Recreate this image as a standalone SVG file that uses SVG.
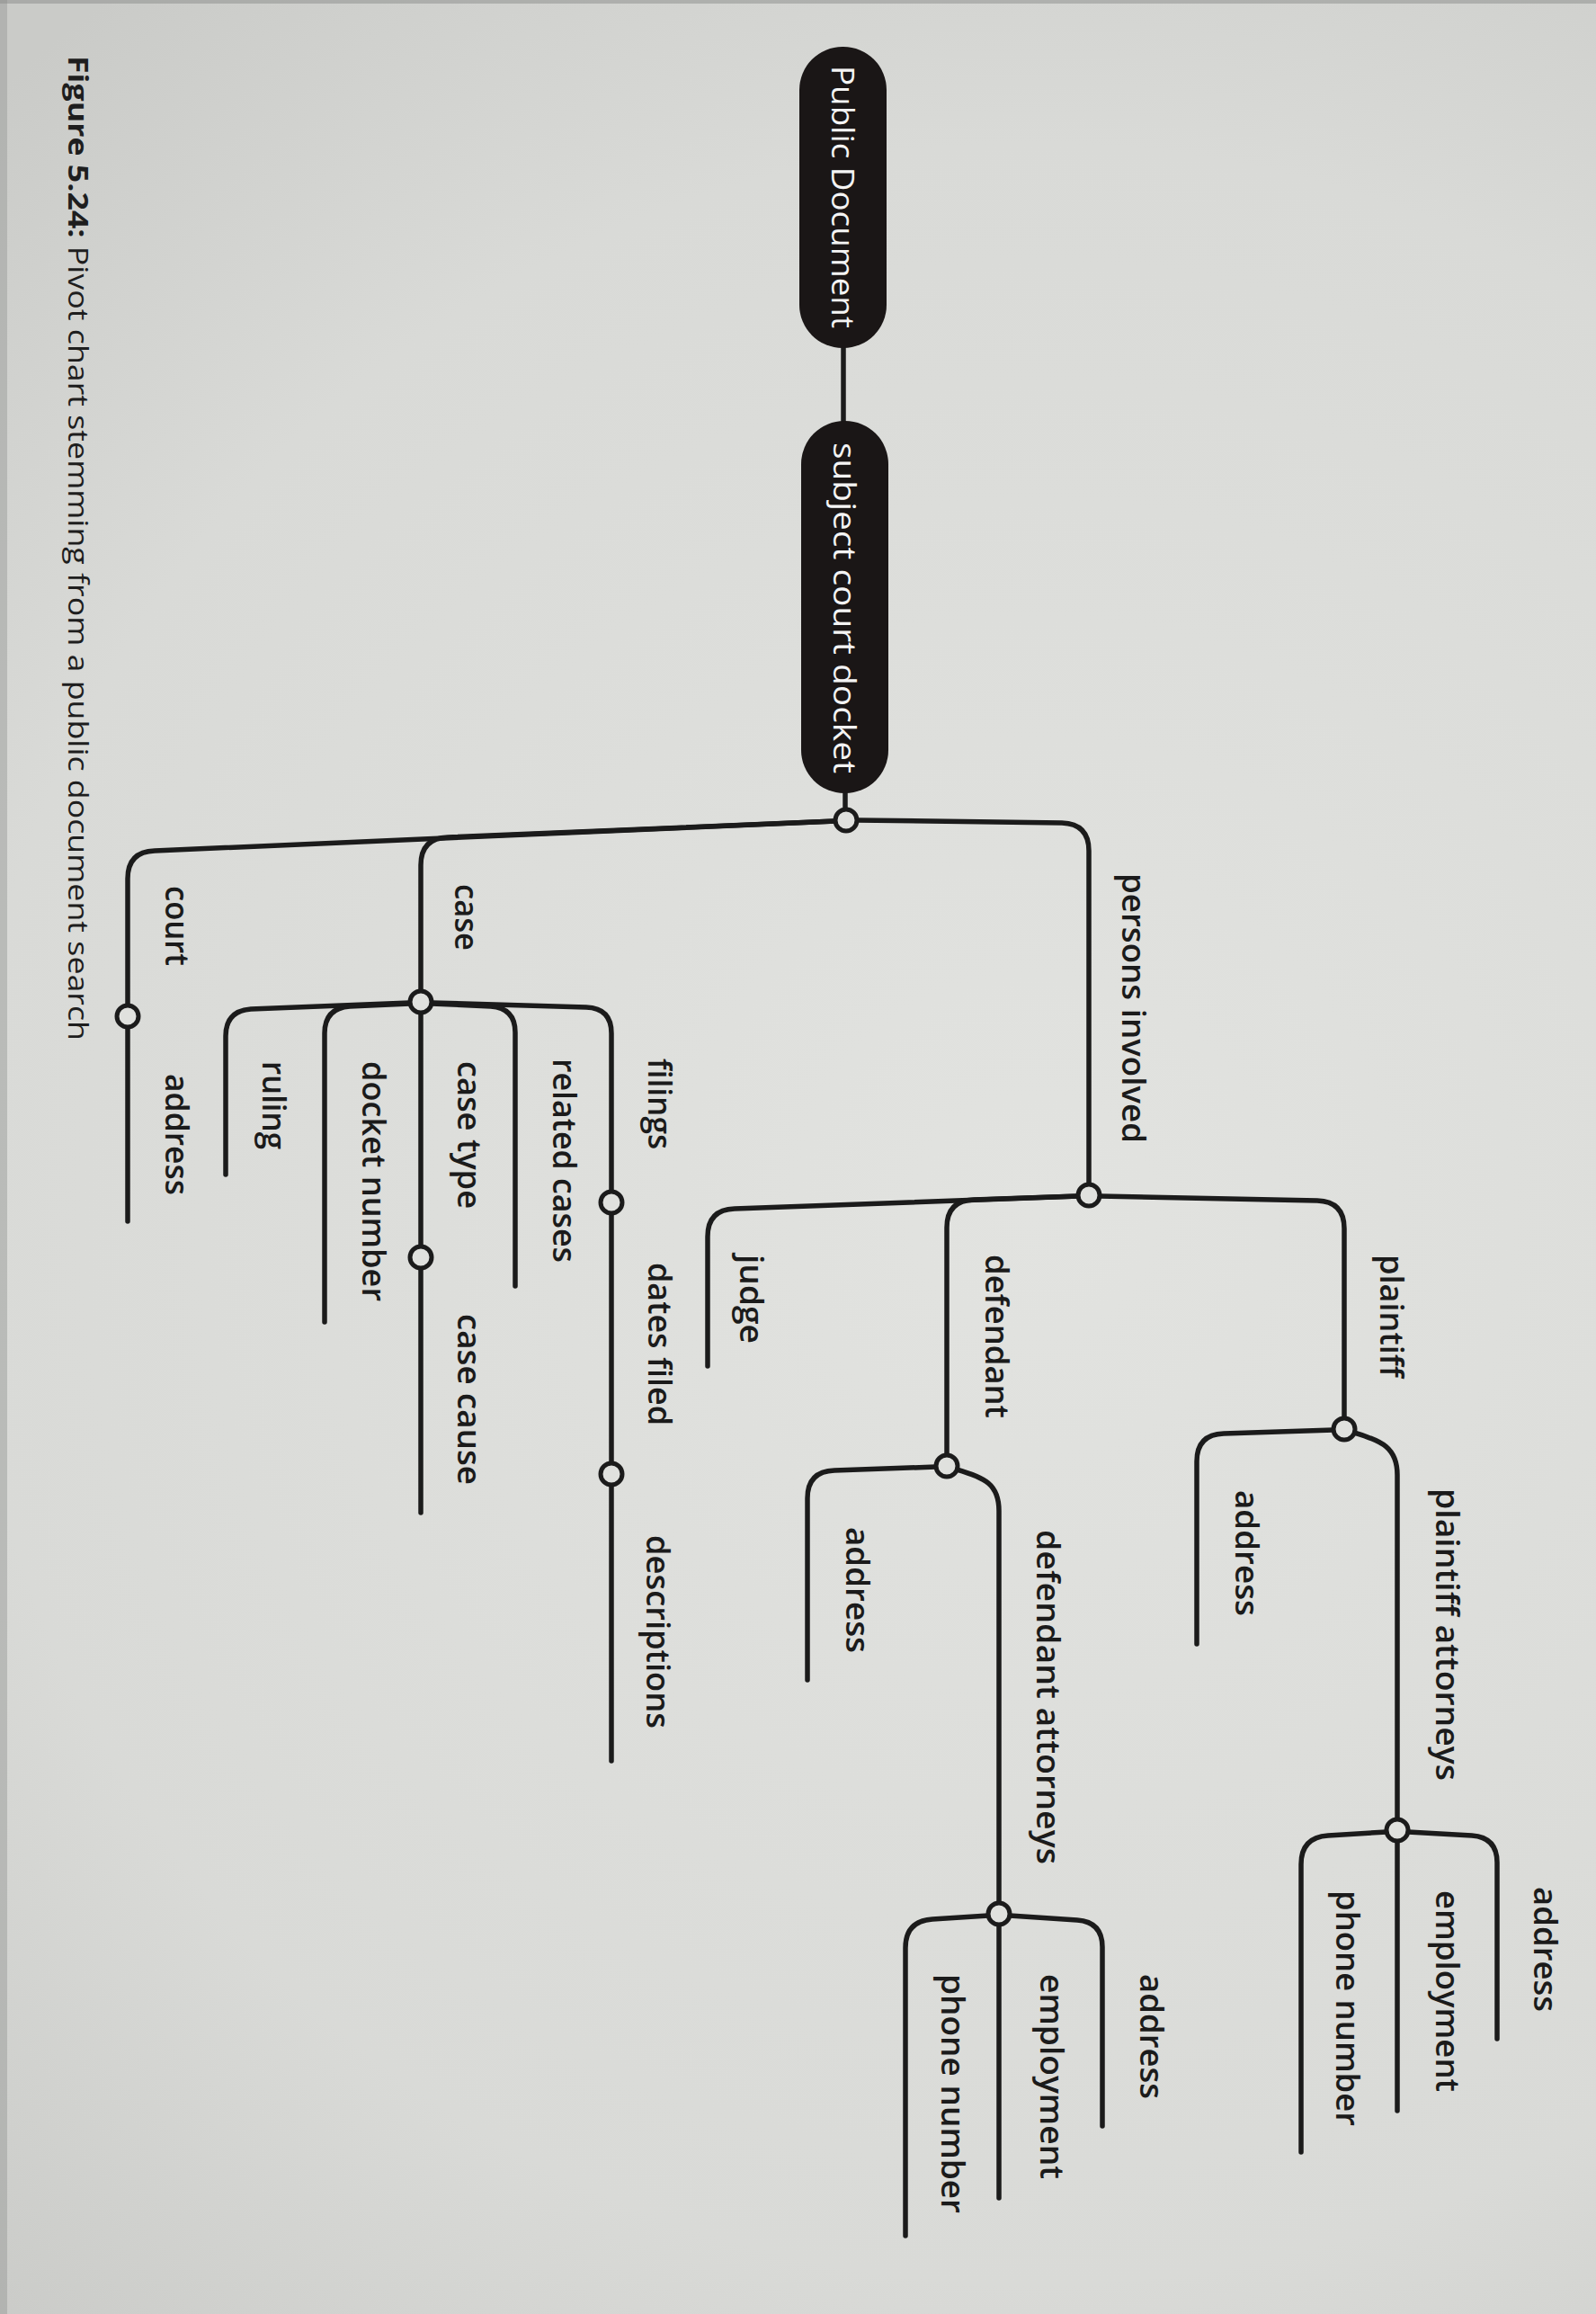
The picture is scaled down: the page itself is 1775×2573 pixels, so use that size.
<svg xmlns="http://www.w3.org/2000/svg" width="1775" height="2573" viewBox="0 0 1775 2573">
<defs>
<radialGradient id="paper" cx="1150" cy="1350" r="1700" gradientUnits="userSpaceOnUse">
<stop offset="0" stop-color="#e2e3e0"/>
<stop offset="0.7" stop-color="#d9dad7"/>
<stop offset="1" stop-color="#cacbc8"/>
</radialGradient>
<style>
.edge{fill:none;stroke:#1b1b1b;stroke-width:5.5;stroke-linecap:round;stroke-linejoin:round}
.dot{fill:#e0e1de;stroke:#1b1b1b;stroke-width:5}
.lbl{font-family:"Open Sans","Liberation Sans",sans-serif;font-size:36px;font-weight:600;fill:#1b1b1b}
.pill{fill:#1a1616}
.ptxt{font-family:"Open Sans","Liberation Sans",sans-serif;font-size:35px;font-weight:400;fill:#f4f4f4}
.cap{font-family:"Open Sans","Liberation Sans",sans-serif;font-size:31px;font-weight:400;fill:#1e1e1e}
</style>
</defs>
<rect x="0" y="0" width="1775" height="2573" fill="url(#paper)"/>
<rect x="0" y="0" width="8" height="2573" fill="#9a9b99" opacity="0.5"/>
<rect x="0" y="0" width="1775" height="4" fill="#8a8b89" opacity="0.5"/>

<g id="connectors">
<path class="edge" d="M938,387 V468"/>
<path class="edge" d="M940,881 V900"/>
<path class="edge" d="M929,913 L172,946 Q142,947 142,977 V1118"/>
<path class="edge" d="M929,913 L498,931 Q468,932 468,962 V1102"/>
<path class="edge" d="M953,912 L1181,915 Q1211,916 1211,946 V1317"/>
<path class="edge" d="M1199,1330 L817,1344 Q787,1345 787,1375 V1519"/>
<path class="edge" d="M1199,1330 L1083,1334 Q1053,1335 1053,1365 V1618"/>
<path class="edge" d="M1223,1330 L1465,1335 Q1495,1336 1495,1366 V1577"/>
<path class="edge" d="M1041,1631 L928,1635 Q898,1636 898,1666 V1868"/>
<path class="edge" d="M1064,1634 C1095,1643 1111,1650 1111,1680 V2116"/>
<path class="edge" d="M1123,2130 L1198,2135 Q1226,2137 1226,2165 V2364"/>
<path class="edge" d="M1111,2140 V2444"/>
<path class="edge" d="M1099,2130 L1037,2134 Q1007,2136 1007,2166 V2486"/>
<path class="edge" d="M1483,1590 L1361,1594 Q1331,1595 1331,1625 V1828"/>
<path class="edge" d="M1506,1593 C1537,1602 1554,1610 1554,1640 V2023"/>
<path class="edge" d="M1566,2037 L1637,2041 Q1665,2043 1665,2071 V2267"/>
<path class="edge" d="M1554,2047 V2347"/>
<path class="edge" d="M1542,2037 L1477,2041 Q1447,2043 1447,2073 V2393"/>
<path class="edge" d="M480,1115 L652,1120 Q680,1121 680,1149 V1325"/>
<path class="edge" d="M480,1116 L546,1119 Q573,1121 573,1148 V1430"/>
<path class="edge" d="M468,1126 V1386"/>
<path class="edge" d="M456,1116 L389,1119 Q361,1121 361,1149 V1470"/>
<path class="edge" d="M456,1115 L279,1122 Q251,1124 251,1152 V1306"/>
<path class="edge" d="M680,1349 V1627"/>
<path class="edge" d="M680,1651 V1958"/>
<path class="edge" d="M468,1410 V1682"/>
<path class="edge" d="M142,1142 V1358"/>
</g>

<g id="n-public-document">
<rect class="pill" x="889" y="52" width="97" height="335" rx="48"/>
<text class="ptxt" transform="translate(925,73) rotate(90)" textLength="292" lengthAdjust="spacingAndGlyphs">Public Document</text>
</g>
<g id="n-subject-court-docket">
<rect class="pill" x="891" y="468" width="97" height="414" rx="48"/>
<text class="ptxt" transform="translate(927,492) rotate(90)" textLength="368" lengthAdjust="spacingAndGlyphs">subject court docket</text>
<circle class="dot" cx="941" cy="912" r="12"/>
</g>
<g id="n-persons-involved">
<text class="lbl" transform="translate(1248,971) rotate(90)" textLength="300" lengthAdjust="spacingAndGlyphs">persons involved</text>
<circle class="dot" cx="1211" cy="1329" r="12"/>
</g>
<g id="n-plaintiff">
<text class="lbl" transform="translate(1535,1395) rotate(90)" textLength="137" lengthAdjust="spacingAndGlyphs">plaintiff</text>
<circle class="dot" cx="1495" cy="1589" r="12"/>
</g>
<g id="n-plaintiff-address">
<text class="lbl" transform="translate(1374,1657) rotate(90)" textLength="140" lengthAdjust="spacingAndGlyphs">address</text>
</g>
<g id="n-plaintiff-attorneys">
<text class="lbl" transform="translate(1597,1655) rotate(90)" textLength="325" lengthAdjust="spacingAndGlyphs">plaintiff attorneys</text>
<circle class="dot" cx="1554" cy="2035" r="12"/>
</g>
<g id="n-pa-address">
<text class="lbl" transform="translate(1706,2098) rotate(90)" textLength="139" lengthAdjust="spacingAndGlyphs">address</text>
</g>
<g id="n-pa-employment">
<text class="lbl" transform="translate(1597,2102) rotate(90)" textLength="224" lengthAdjust="spacingAndGlyphs">employment</text>
</g>
<g id="n-pa-phone-number">
<text class="lbl" transform="translate(1486,2102) rotate(90)" textLength="262" lengthAdjust="spacingAndGlyphs">phone number</text>
</g>
<g id="n-defendant">
<text class="lbl" transform="translate(1096,1395) rotate(90)" textLength="182" lengthAdjust="spacingAndGlyphs">defendant</text>
<circle class="dot" cx="1053" cy="1630" r="12"/>
</g>
<g id="n-defendant-address">
<text class="lbl" transform="translate(941,1698) rotate(90)" textLength="140" lengthAdjust="spacingAndGlyphs">address</text>
</g>
<g id="n-defendant-attorneys">
<text class="lbl" transform="translate(1153,1701) rotate(90)" textLength="372" lengthAdjust="spacingAndGlyphs">defendant attorneys</text>
<circle class="dot" cx="1111" cy="2128" r="12"/>
</g>
<g id="n-da-address">
<text class="lbl" transform="translate(1268,2195) rotate(90)" textLength="139" lengthAdjust="spacingAndGlyphs">address</text>
</g>
<g id="n-da-employment">
<text class="lbl" transform="translate(1157,2195) rotate(90)" textLength="228" lengthAdjust="spacingAndGlyphs">employment</text>
</g>
<g id="n-da-phone-number">
<text class="lbl" transform="translate(1047,2195) rotate(90)" textLength="266" lengthAdjust="spacingAndGlyphs">phone number</text>
</g>
<g id="n-judge">
<text class="lbl" transform="translate(823,1395) rotate(90)" textLength="99" lengthAdjust="spacingAndGlyphs">judge</text>
</g>
<g id="n-case">
<text class="lbl" transform="translate(506,983) rotate(90)" textLength="74" lengthAdjust="spacingAndGlyphs">case</text>
<circle class="dot" cx="468" cy="1114" r="12"/>
</g>
<g id="n-filings">
<text class="lbl" transform="translate(721,1177) rotate(90)" textLength="101" lengthAdjust="spacingAndGlyphs">filings</text>
<circle class="dot" cx="680" cy="1337" r="12"/>
</g>
<g id="n-dates-filed">
<text class="lbl" transform="translate(721,1404) rotate(90)" textLength="181" lengthAdjust="spacingAndGlyphs">dates filed</text>
<circle class="dot" cx="680" cy="1639" r="12"/>
</g>
<g id="n-descriptions">
<text class="lbl" transform="translate(719,1707) rotate(90)" textLength="215" lengthAdjust="spacingAndGlyphs">descriptions</text>
</g>
<g id="n-related-cases">
<text class="lbl" transform="translate(615,1177) rotate(90)" textLength="227" lengthAdjust="spacingAndGlyphs">related cases</text>
</g>
<g id="n-case-type">
<text class="lbl" transform="translate(509,1180) rotate(90)" textLength="164" lengthAdjust="spacingAndGlyphs">case type</text>
<circle class="dot" cx="468" cy="1398" r="12"/>
</g>
<g id="n-case-cause">
<text class="lbl" transform="translate(509,1461) rotate(90)" textLength="190" lengthAdjust="spacingAndGlyphs">case cause</text>
</g>
<g id="n-docket-number">
<text class="lbl" transform="translate(403,1180) rotate(90)" textLength="267" lengthAdjust="spacingAndGlyphs">docket number</text>
</g>
<g id="n-ruling">
<text class="lbl" transform="translate(292,1180) rotate(90)" textLength="98" lengthAdjust="spacingAndGlyphs">ruling</text>
</g>
<g id="n-court">
<text class="lbl" transform="translate(184,985) rotate(90)" textLength="89" lengthAdjust="spacingAndGlyphs">court</text>
<circle class="dot" cx="142" cy="1130" r="12"/>
</g>
<g id="n-court-address">
<text class="lbl" transform="translate(184,1194) rotate(90)" textLength="135" lengthAdjust="spacingAndGlyphs">address</text>
</g>

<g id="caption">
<text class="cap" transform="translate(76,62) rotate(90)" textLength="1095" lengthAdjust="spacingAndGlyphs"><tspan font-weight="700">Figure 5.24:</tspan> Pivot chart stemming from a public document search</text>
</g>
</svg>
